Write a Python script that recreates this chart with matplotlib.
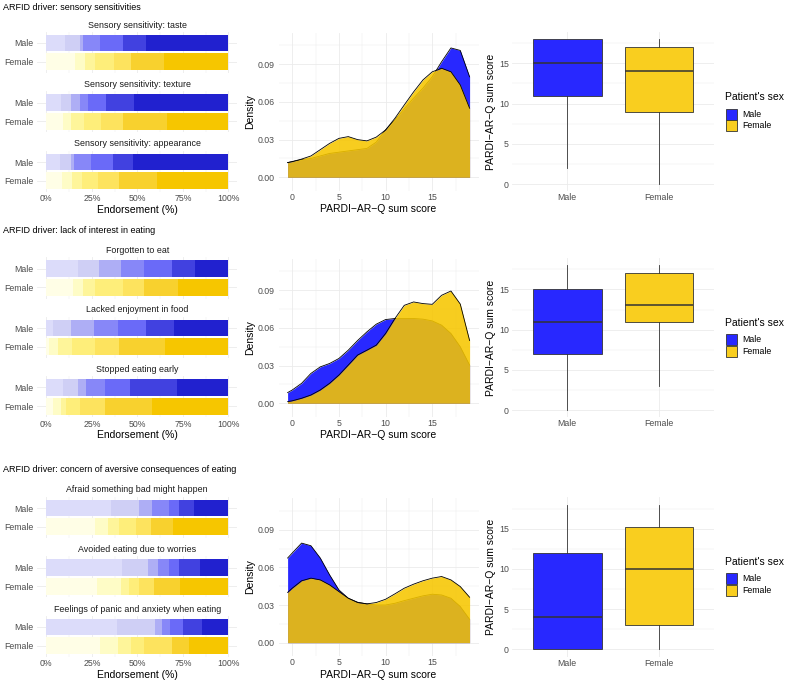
import numpy as np
import matplotlib.pyplot as plt
from matplotlib.patches import Rectangle

plt.rcParams['font.family'] = ['Liberation Sans', 'DejaVu Sans']

# ---- data ----
sexes = ["Male", "Female"]
row_titles = ["ARFID driver: sensory sensitivities",
              "ARFID driver: lack of interest in eating",
              "ARFID driver: concern of aversive consequences of eating"]

sensory_items = ["Sensory sensitivity: taste", "Sensory sensitivity: texture",
                 "Sensory sensitivity: appearance"]
sensory_male = [[10.4, 7.9, 1.8, 9.2, 12.7, 12.8, 45.2],
                [8.2, 5.5, 4.6, 4.6, 10.0, 15.5, 51.6],
                [7.5, 5.9, 1.8, 9.2, 12.0, 11.0, 52.6]]
sensory_female = [[15.5, 5.9, 5.5, 10.1, 9.6, 17.8, 35.6],
                  [9.0, 4.6, 7.0, 9.6, 11.7, 24.2, 33.9],
                  [8.8, 5.5, 5.1, 9.2, 11.5, 20.5, 39.4]]

interest_items = ["Forgotten to eat", "Lacked enjoyment in food", "Stopped eating early"]
interest_male = [[17.2, 11.9, 11.7, 12.9, 15.3, 12.7, 18.3],
                 [3.5, 10.1, 12.8, 12.8, 15.6, 15.4, 29.8],
                 [9.0, 8.4, 4.4, 10.4, 13.8, 25.6, 28.4]]
interest_female = [[14.8, 5.5, 6.4, 15.2, 11.8, 18.8, 27.5],
                   [1.6, 5.0, 7.3, 12.8, 13.4, 25.1, 34.8],
                   [3.5, 4.4, 2.9, 7.7, 13.9, 25.7, 41.9]]

aversive_items = ["Afraid something bad might happen", "Avoided eating due to worries",
                  "Feelings of panic and anxiety when eating"]
aversive_male = [[35.5, 15.4, 7.3, 9.2, 5.5, 8.2, 18.9],
                 [41.4, 14.6, 5.5, 5.9, 5.5, 11.5, 15.6],
                 [38.6, 21.1, 4.0, 4.2, 7.4, 10.0, 14.7]]
aversive_female = [[26.7, 7.4, 6.0, 9.2, 8.0, 12.1, 30.6],
                   [27.7, 13.1, 4.8, 5.5, 8.1, 14.2, 26.6],
                   [29.5, 9.9, 6.9, 7.4, 15.2, 9.7, 21.4]]

# density curves, read at these scores
score_grid = [-0.5, 0, 1, 2, 3, 4, 5, 6, 7, 8, 9, 10, 11, 12, 13, 14, 15, 16, 17, 18, 19]
dens_sensory_male = [0.0117, 0.0125, 0.014, 0.015, 0.017, 0.019, 0.020, 0.021, 0.022, 0.023, 0.028,
                     0.0377, 0.0457, 0.0545, 0.063, 0.071, 0.080, 0.092, 0.103, 0.101, 0.080]
dens_sensory_female = [0.0117, 0.0125, 0.0145, 0.017, 0.022, 0.027, 0.031, 0.0324, 0.030, 0.029, 0.032,
                       0.0377, 0.047, 0.0576, 0.068, 0.0775, 0.084, 0.0868, 0.084, 0.0735, 0.055]
dens_interest_male = [0.0085, 0.0106, 0.0159, 0.0238, 0.029, 0.0317, 0.0357, 0.0423, 0.050, 0.0569, 0.063,
                      0.0667, 0.0675, 0.0675, 0.0675, 0.067, 0.0656, 0.0622, 0.0556, 0.045, 0.0304]
dens_interest_female = [0.0013, 0.002, 0.004, 0.0066, 0.0106, 0.0159, 0.0225, 0.0304, 0.0384, 0.0423, 0.0463,
                        0.0556, 0.0675, 0.078, 0.0807, 0.0794, 0.0788, 0.086, 0.0894, 0.079, 0.050]
dens_aversive_male = [0.0674, 0.0714, 0.0793, 0.0772, 0.0674, 0.054, 0.042, 0.0354, 0.0322, 0.0309, 0.030,
                      0.030, 0.0314, 0.0335, 0.0354, 0.0373, 0.0386, 0.038, 0.0354, 0.0288, 0.0186]
dens_aversive_female = [0.040, 0.0434, 0.0493, 0.0514, 0.050, 0.046, 0.0407, 0.0354, 0.032, 0.0309, 0.032,
                        0.0346, 0.0389, 0.0434, 0.0466, 0.0493, 0.0514, 0.0527, 0.050, 0.0447, 0.0362]

# box stats: whisker low, q1, median, q3, whisker high  (Male, Female)
box_sensory = [[2, 11, 15, 18, 18], [0, 9, 14, 17, 18]]
box_interest = [[0, 7, 11, 15, 18], [3, 11, 13, 17, 18]]
box_aversive = [[0, 0, 4, 12, 18], [0, 3, 10, 15.25, 18]]

blues = ['#DCDCFA', '#CFCFF5', '#AEAEF5', '#8787F8', '#6A6AF8', '#4141E0', '#2121CF']
yellows = ['#FFFEE6', '#FEFCC6', '#FEF59A', '#FEEE7A', '#FDE35E', '#F8D12E', '#F6C600']
male_col = '#2828FF'
female_col = '#F9CE1F'

items = [sensory_items, interest_items, aversive_items]
bars_male = [sensory_male, interest_male, aversive_male]
bars_female = [sensory_female, interest_female, aversive_female]
dens_male = [dens_sensory_male, dens_interest_male, dens_aversive_male]
dens_female = [dens_sensory_female, dens_interest_female, dens_aversive_female]
boxes = [box_sensory, box_interest, box_aversive]

# ---- layout (pixels) ----
W, H = 787, 681
fig = plt.figure(figsize=(W / 100, H / 100), dpi=100)

GRID = '#EBEBEB'
TICK = '#4D4D4D'


def px_axes(l, t, r, b):
    return fig.add_axes([l / W, 1 - b / H, (r - l) / W, (b - t) / H])


def px_text(x, y, s, **kw):
    fig.text(x / W, 1 - y / H, s, **kw)


def style(ax):
    for sp in ax.spines.values():
        sp.set_visible(False)
    ax.tick_params(which='both', length=0, labelcolor=TICK, labelsize=6.3, pad=2.5)
    ax.set_axisbelow(True)
    ax.grid(True, which='major', color=GRID, lw=0.6)
    ax.grid(True, which='minor', color=GRID, lw=0.3)
    ax.set_facecolor('none')


title_y = [8, 230.7, 470]
male_y = [[43, 102.5, 162], [268.7, 328, 387.5], [508, 567.5, 627]]
dens_zero = [177.3, 403.3, 642.7]
box_zero = [184, 410, 649.3]
legend_y = [97.3, 322.7, 562]
unit = 18.7

for r in range(3):
    px_text(3, title_y[r], row_titles[r], ha='left', va='center', fontsize=6.5)

    # stacked endorsement bars, one facet per item
    for k in range(3):
        mc = male_y[r][k]
        ax = px_axes(37.2, mc - 0.6 * unit, 237.4, mc + unit + 0.6 * unit)
        style(ax)
        for i, (vals, cols) in enumerate([(bars_male[r][k], blues), (bars_female[r][k], yellows)]):
            v = np.array(vals) / np.sum(vals) * 100
            left = np.concatenate([[0], np.cumsum(v)[:-1]])
            ax.barh(i + 1, v, left=left, height=0.9, color=cols, lw=0)
        ax.set_xlim(-5, 105)
        ax.set_ylim(2.6, 0.4)
        ax.set_yticks([1, 2], sexes)
        ax.set_xticks([0, 25, 50, 75, 100], ['0%', '25%', '50%', '75%', '100%'])
        ax.set_xticks([12.5, 37.5, 62.5, 87.5], minor=True)
        ax.tick_params(axis='x', pad=1.5)
        if k < 2:
            ax.tick_params(axis='x', labelbottom=False)
        px_text(137.3, mc - 18, items[r][k], ha='center', va='center', fontsize=6.4, color='#1A1A1A')
    px_text(137.3, male_y[r][2] + 48, 'Endorsement (%)', ha='center', va='center', fontsize=7.5)

    # density of sum score
    z = dens_zero[r]
    ax = px_axes(278.5, z - 0.115 * 1256, 478.7, z + 0.0109 * 1256)
    style(ax)
    ax.fill_between(score_grid, 0, dens_male[r], color=male_col, lw=0, zorder=2)
    ax.plot(score_grid, dens_male[r], color='black', lw=0.6, zorder=2.1)
    ax.fill_between(score_grid, 0, dens_female[r], color='#F6C600', alpha=0.88, lw=0, zorder=3)
    ax.plot(score_grid, dens_female[r], color='black', lw=0.6, zorder=3.1)
    ax.set_xlim(-1.475, 19.975)
    ax.set_ylim(-0.0109, 0.115)
    ax.set_xticks([0, 5, 10, 15])
    ax.set_xticks([2.5, 7.5, 12.5, 17.5], minor=True)
    ax.set_yticks([0, 0.03, 0.06, 0.09], ['0.00', '0.03', '0.06', '0.09'])
    ax.set_yticks([0.015, 0.045, 0.075, 0.105], minor=True)
    ax.tick_params(axis='x', pad=1.5)
    px_text(250, z - 66, 'Density', ha='center', va='center', rotation=90, fontsize=7.5)
    px_text(378.6, z + 32, 'PARDI\u2212AR\u2212Q sum score', ha='center', va='center', fontsize=7.5)

    # box plots
    bz = box_zero[r]
    ax = px_axes(512.3, bz - 18.9 * 8.04, 714, bz + 0.9 * 8.04)
    style(ax)
    stats = [dict(whislo=b[0], q1=b[1], med=b[2], q3=b[3], whishi=b[4], fliers=[]) for b in boxes[r]]
    bp = ax.bxp(stats, positions=[1, 2], widths=0.75, patch_artist=True, showcaps=False,
                showfliers=False,
                boxprops=dict(edgecolor='#333333', lw=0.6),
                whiskerprops=dict(color='#333333', lw=0.6),
                medianprops=dict(color='#333333', lw=1.1))
    for patch, c in zip(bp['boxes'], [male_col, female_col]):
        patch.set_facecolor(c)
    ax.set_xlim(0.4, 2.6)
    ax.set_ylim(-0.9, 18.9)
    ax.set_xticks([1, 2], sexes)
    ax.set_yticks([0, 5, 10, 15])
    ax.set_yticks([2.5, 7.5, 12.5, 17.5], minor=True)
    ax.tick_params(axis='x', pad=1.5)
    px_text(490.7, bz - 72.5, 'PARDI\u2212AR\u2212Q sum score', ha='center', va='center',
            rotation=90, fontsize=7.5)

    # legend
    ly = legend_y[r]
    px_text(725, ly, "Patient's sex", ha='left', va='center', fontsize=7.5)
    for i, (lab, c) in enumerate(zip(sexes, [male_col, female_col])):
        top = ly + 11.3 + i * 11.7
        fig.add_artist(Rectangle((725.7 / W, 1 - (top + 11) / H), 11 / W, 11 / H,
                                 transform=fig.transFigure, facecolor=c,
                                 edgecolor='#333333', lw=0.6))
        px_text(742.7, top + 5.5, lab, ha='left', va='center', fontsize=6.3)

fig.savefig('out.png', dpi=100)
